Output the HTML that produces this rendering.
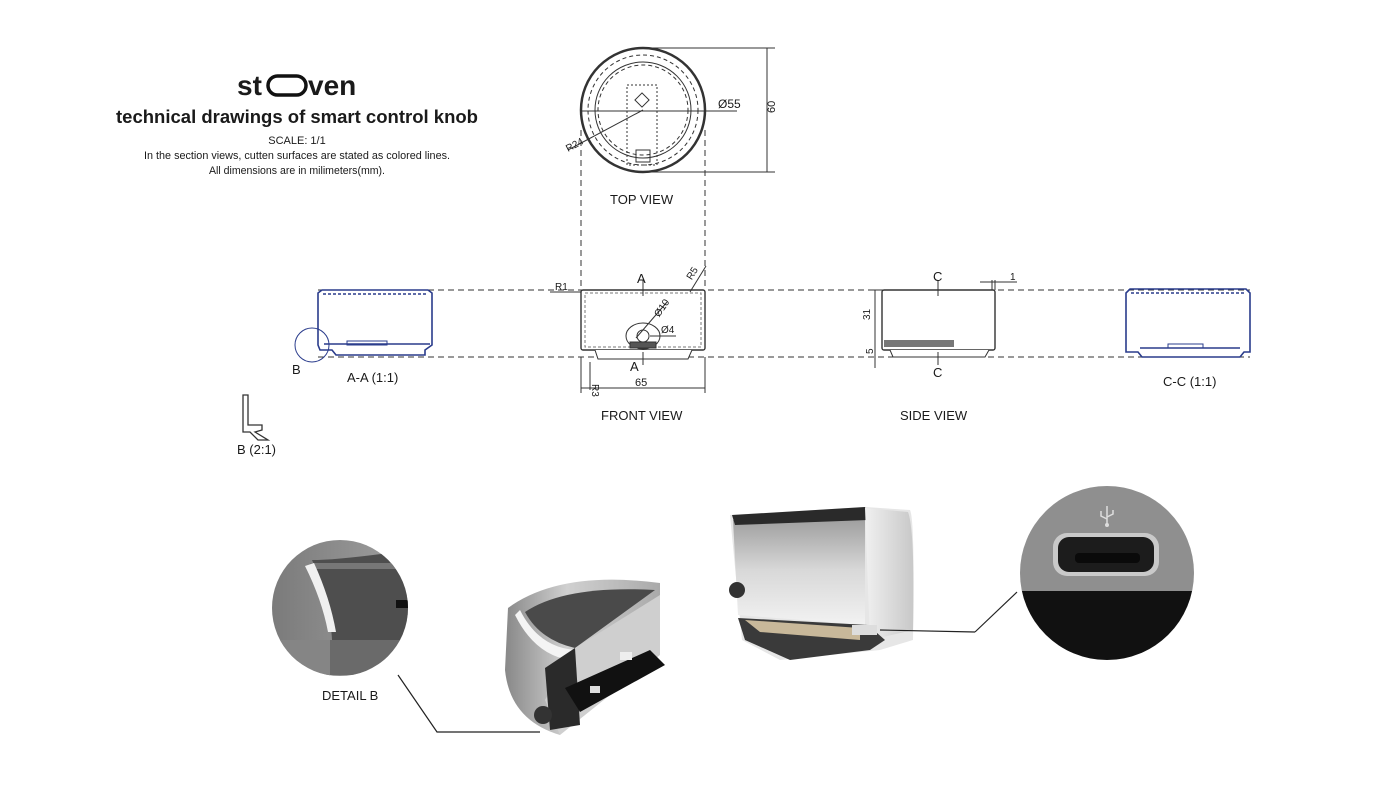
<!DOCTYPE html>
<html><head><meta charset="utf-8"><style>
html,body{margin:0;padding:0;background:#fff;width:1400px;height:787px;overflow:hidden}
svg{display:block}
text{font-family:"Liberation Sans",sans-serif;fill:#1a1a1a}
</style></head><body>
<svg width="1400" height="787" viewBox="0 0 1400 787" xmlns="http://www.w3.org/2000/svg">
<defs>
<linearGradient id="inner" x1="0" y1="0" x2="0" y2="1"><stop offset="0" stop-color="#9a9a9a"/><stop offset="0.5" stop-color="#d8d8d8"/><stop offset="1" stop-color="#f2f2f2"/></linearGradient>
<linearGradient id="side" x1="0" y1="0" x2="1" y2="0"><stop offset="0" stop-color="#f0f0f0"/><stop offset="1" stop-color="#c8c8c8"/></linearGradient>
<linearGradient id="knob" x1="0" y1="0" x2="1" y2="0"><stop offset="0" stop-color="#888"/><stop offset="0.4" stop-color="#d0d0d0"/><stop offset="1" stop-color="#aaa"/></linearGradient>
<linearGradient id="dg" x1="0" y1="0" x2="1" y2="0"><stop offset="0" stop-color="#7a7a7a"/><stop offset="1" stop-color="#a0a0a0"/></linearGradient>
<clipPath id="cb"><circle cx="340" cy="608" r="68"/></clipPath>
<clipPath id="cu"><circle cx="1107" cy="573" r="87"/></clipPath>
</defs>

<!-- Title -->
<text x="237" y="95" font-size="28" font-weight="bold">st</text>
<rect x="268" y="76" width="38" height="19" rx="9.5" fill="none" stroke="#111" stroke-width="3.5"/>
<text x="308" y="95" font-size="28" font-weight="bold">ven</text>
<text x="297" y="123" font-size="18.5" font-weight="bold" text-anchor="middle" fill="#222" textLength="362" lengthAdjust="spacingAndGlyphs">technical drawings of smart control knob</text>
<text x="297" y="144" font-size="11" text-anchor="middle">SCALE: 1/1</text>
<text x="297" y="159" font-size="11" text-anchor="middle" textLength="306" lengthAdjust="spacingAndGlyphs">In the section views, cutten surfaces are stated as colored lines.</text>
<text x="297" y="174" font-size="11" text-anchor="middle" textLength="176" lengthAdjust="spacingAndGlyphs">All dimensions are in milimeters(mm).</text>

<g stroke="#333" fill="none" stroke-width="1">
<!-- top view -->
<circle cx="643" cy="110" r="62" stroke-width="2.5"/>
<circle cx="643" cy="110" r="55" stroke-dasharray="4 3"/>
<circle cx="643" cy="110" r="48"/>
<circle cx="643" cy="110" r="45" stroke-dasharray="4 3"/>
<rect x="627" y="85" width="30" height="80" stroke-dasharray="2 2"/>
<rect x="636" y="150" width="14" height="12"/>
<rect x="637" y="95" width="10" height="10" transform="rotate(45 642 100)"/>
<line x1="581" y1="111" x2="737" y2="111"/>
<line x1="568" y1="150" x2="643" y2="110"/>
<line x1="643" y1="48" x2="775" y2="48"/>
<line x1="643" y1="172" x2="775" y2="172"/>
<line x1="767" y1="48" x2="767" y2="172"/>
<line x1="581" y1="130" x2="581" y2="290" stroke-dasharray="6 4"/>
<line x1="705" y1="130" x2="705" y2="290" stroke-dasharray="6 4"/>
<line x1="318" y1="290" x2="1250" y2="290" stroke-dasharray="6 4"/>
<line x1="318" y1="357" x2="1250" y2="357" stroke-dasharray="6 4"/>
<!-- front view -->
<rect x="581" y="290" width="124" height="60" rx="2" fill="#fff" stroke-width="1.4"/>
<path d="M595 350 L598 359 L688 359 L692 350" fill="#fff"/>
<rect x="585" y="293" width="116" height="54" stroke-dasharray="3 2" stroke="#777"/>
<ellipse cx="643" cy="336" rx="17" ry="13"/>
<circle cx="643" cy="336" r="6"/>
<rect x="630" y="342" width="26" height="6" fill="#555"/>
<line x1="636" y1="338" x2="667" y2="302"/>
<line x1="650" y1="336" x2="676" y2="336"/>
<line x1="643" y1="280" x2="643" y2="296"/><line x1="643" y1="352" x2="643" y2="365"/>
<line x1="690" y1="292" x2="706" y2="266"/>
<line x1="550" y1="292" x2="581" y2="292"/>
<line x1="581" y1="357" x2="581" y2="393"/><line x1="705" y1="357" x2="705" y2="393"/>
<line x1="581" y1="388" x2="705" y2="388"/>
<line x1="590" y1="362" x2="590" y2="390"/>
<!-- side view -->
<rect x="882" y="290" width="113" height="60" rx="2" fill="#fff" stroke-width="1.4"/>
<path d="M890 350 L893 357 L985 357 L989 350" fill="#fff"/>
<rect x="884" y="340" width="70" height="7" fill="#777" stroke="none"/>
<line x1="938" y1="280" x2="938" y2="296"/><line x1="938" y1="352" x2="938" y2="365"/>
<line x1="870" y1="290" x2="882" y2="290"/>
<line x1="875" y1="290" x2="875" y2="350"/>
<line x1="875" y1="340" x2="875" y2="368"/>
<line x1="992" y1="280" x2="992" y2="290"/><line x1="995" y1="280" x2="995" y2="290"/>
<line x1="980" y1="282" x2="1017" y2="282"/>
</g>

<!-- section views (blue) -->
<g stroke="#2a3c8c" fill="none" stroke-width="1.6">
<path d="M318 293 L322 290 L428 290 L432 293 L432 345 L425 350 L425 355 L336 355 L332 350 L320 350 L318 345 Z"/>
<line x1="323" y1="294" x2="427" y2="294" stroke-dasharray="3 2"/>
<line x1="324" y1="344" x2="430" y2="344"/>
<rect x="347" y="341" width="40" height="4" stroke-width="1"/>
<circle cx="312" cy="345" r="17" stroke-width="1"/>
<path d="M1126 293 L1130 289 L1246 289 L1250 293 L1250 352 L1244 352 L1240 357 L1142 357 L1138 352 L1126 352 Z"/>
<line x1="1131" y1="293" x2="1245" y2="293" stroke-dasharray="3 2"/>
<line x1="1140" y1="348" x2="1240" y2="348"/>
<rect x="1168" y="344" width="35" height="4" stroke-width="1"/>
</g>
<g stroke="#333" fill="none" stroke-width="1.3">
<path d="M243 395 L248 395 L248 425 L262 425 L262 430 L255 432 L268 440 L258 440 L250 432 L243 432 Z"/>
</g>

<g font-size="12">
<text x="718" y="108">Ø55</text>
<text x="770" y="118" transform="rotate(-90 770 113)" font-size="11">60</text>
<text x="568" y="152" transform="rotate(-28 568 152)" font-size="10">R24</text>
<text x="637" y="283" font-size="13">A</text>
<text x="630" y="371" font-size="13">A</text>
<text x="688" y="278" transform="rotate(-58 692 276)" font-size="10">R5</text>
<text x="555" y="290" font-size="10">R1</text>
<text x="654" y="316" transform="rotate(-55 658 312)" font-size="10">Ø10</text>
<text x="661" y="333" font-size="10">Ø4</text>
<text x="635" y="386" font-size="11">65</text>
<text x="592" y="384" transform="rotate(90 592 384)" font-size="10">R3</text>
<text x="933" y="281" font-size="13">C</text>
<text x="933" y="377" font-size="13">C</text>
<text x="1010" y="280" font-size="10">1</text>
<text x="868" y="322" transform="rotate(-90 868 320)" font-size="10">31</text>
<text x="871" y="356" transform="rotate(-90 871 354)" font-size="10">5</text>
<text x="292" y="374" font-size="13">B</text>
<text x="347" y="382" font-size="13">A-A (1:1)</text>
<text x="1163" y="386" font-size="13">C-C (1:1)</text>
<text x="237" y="454" font-size="13">B (2:1)</text>
<text x="610" y="204" font-size="13">TOP VIEW</text>
<text x="601" y="420" font-size="13">FRONT VIEW</text>
<text x="900" y="420" font-size="13">SIDE VIEW</text>
<text x="322" y="700" font-size="13">DETAIL B</text>
</g>

<!-- Detail B lens -->
<g clip-path="url(#cb)">
<rect x="270" y="538" width="140" height="140" fill="url(#dg)"/>
<path d="M312 560 Q340 560 410 550 L410 640 L332 640 Q330 600 312 560 Z" fill="#4e4e4e"/>
<rect x="310" y="563" width="95" height="6" fill="#777"/>
<path d="M305 566 Q322 600 328 632 L336 632 Q330 598 314 563 Z" fill="#f0f0f0"/>
<rect x="330" y="640" width="85" height="35" fill="#6a6a6a"/>
<path d="M270 640 L330 640 L330 678 L270 678 Z" fill="#858585"/>
<rect x="396" y="600" width="14" height="8" fill="#111"/>
</g>
<polyline points="398,675 437,732 540,732" fill="none" stroke="#222" stroke-width="1.2"/>

<!-- Knob cutaway -->
<path d="M508 608 Q560 570 660 583 L660 600 L560 708 L560 735 Q510 720 505 670 Z" fill="url(#knob)"/>
<path d="M525 612 Q565 585 655 590 L575 648 Q540 640 525 612 Z" fill="#4a4a4a"/>
<path d="M520 610 Q540 650 580 650 L570 660 Q535 655 515 615 Z" fill="#f4f4f4"/>
<path d="M575 648 L660 595 L660 655 L560 735 L545 700 Z" fill="#cfcfcf"/>
<path d="M545 668 L575 648 L580 725 L550 730 Z" fill="#2a2a2a"/>
<path d="M565 688 L650 650 L665 665 L580 712 Z" fill="#111"/>
<rect x="620" y="652" width="12" height="8" fill="#eee"/>
<rect x="590" y="686" width="10" height="7" fill="#ddd"/>
<circle cx="543" cy="715" r="9" fill="#333"/>

<!-- box cutaway -->
<path d="M730 515 L865 507 L910 510 Q915 520 913 640 L880 650 L780 660 L742 640 Z" fill="#e6e6e6"/>
<path d="M733 520 L865 515 L865 625 L738 615 Z" fill="url(#inner)"/>
<path d="M732 515 L865 507 L868 520 L735 525 Z" fill="#2a2a2a"/>
<path d="M865 508 L908 512 Q915 530 913 630 L870 640 Z" fill="url(#side)"/>
<circle cx="737" cy="590" r="8" fill="#333"/>
<path d="M738 618 L868 625 L885 640 L870 650 L790 660 L745 640 Z" fill="#3a3a3a"/>
<path d="M745 620 L860 628 L860 640 L760 632 Z" fill="#c8b89a"/>
<rect x="852" y="625" width="25" height="10" fill="#ddd"/>
<line x1="880" y1="630" x2="975" y2="632" stroke="#222" stroke-width="1.2"/>
<line x1="975" y1="632" x2="1017" y2="592" stroke="#222" stroke-width="1.2"/>

<!-- USB lens -->
<g clip-path="url(#cu)">
<rect x="1015" y="485" width="185" height="106" fill="#8f8f8f"/>
<rect x="1015" y="591" width="185" height="70" fill="#111"/>
<rect x="1053" y="533" width="106" height="43" rx="14" fill="#c9c9c9"/>
<rect x="1058" y="537" width="96" height="35" rx="11" fill="#1c1c1c"/>
<rect x="1075" y="553" width="65" height="10" rx="4" fill="#0a0a0a"/>
</g>
<g stroke="#ddd" stroke-width="1.5" fill="none">
<line x1="1107" y1="506" x2="1107" y2="524"/>
<path d="M1101 511 L1101 516 L1107 519 M1113 510 L1113 514 L1107 517"/>
</g>
<circle cx="1107" cy="525" r="2" fill="#ddd"/>
</svg>
</body></html>
